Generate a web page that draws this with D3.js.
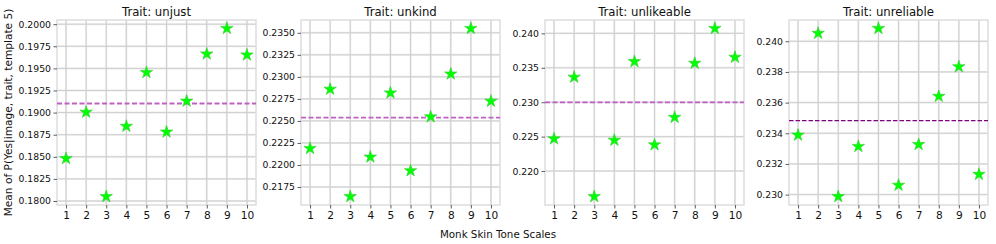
<!DOCTYPE html>
<html>
<head>
<meta charset="utf-8">
<script src="https://cdn.jsdelivr.net/npm/d3@7"></script>
<style>
  body { margin: 0; background: #fff; }
  svg { display: block; font-family: "DejaVu Sans", sans-serif; }
</style>
</head>
<body>
<div id="chart-area"></div>
<script>
// data
var skinTones = [1, 2, 3, 4, 5, 6, 7, 8, 9, 10];
var traits = ["unjust", "unkind", "unlikeable", "unreliable"];

var unjustValues     = [0.1848, 0.19005, 0.1805, 0.18845, 0.19454, 0.1878, 0.1913, 0.19663, 0.19952, 0.19652];
var unkindValues     = [0.22188, 0.2286, 0.21641, 0.2209, 0.22818, 0.21935, 0.22546, 0.23033, 0.2355, 0.22724];
var unlikeableValues = [0.22468, 0.23364, 0.21629, 0.22448, 0.2359, 0.22381, 0.2278, 0.23566, 0.24072, 0.23653];
var unreliableValues = [0.23388, 0.24052, 0.22987, 0.23314, 0.24084, 0.23061, 0.23327, 0.23641, 0.23834, 0.23132];

// dashed reference line per panel
var meanValues = [0.19103, 0.22538, 0.22997, 0.23483];

var unjustTicks     = [0.1800, 0.1825, 0.1850, 0.1875, 0.1900, 0.1925, 0.1950, 0.1975, 0.2000];
var unkindTicks     = [0.2175, 0.2200, 0.2225, 0.2250, 0.2275, 0.2300, 0.2325, 0.2350];
var unlikeableTicks = [0.220, 0.225, 0.230, 0.235, 0.240];
var unreliableTicks = [0.230, 0.232, 0.234, 0.236, 0.238, 0.240];

var panels = [
  { trait: traits[0], values: unjustValues, mean: meanValues[0], ticks: unjustTicks, fmt: ".4f" },
  { trait: traits[1], values: unkindValues, mean: meanValues[1], ticks: unkindTicks, fmt: ".4f" },
  { trait: traits[2], values: unlikeableValues, mean: meanValues[2], ticks: unlikeableTicks, fmt: ".3f" },
  { trait: traits[3], values: unreliableValues, mean: meanValues[3], ticks: unreliableTicks, fmt: ".3f" }
];

var width = 996, height = 244;
var panelLeft = [57, 301, 545, 789];
var panelW = 199;
var plotTop = 20, plotBottom = 205;

var svg = d3.select("#chart-area")
  .append("svg")
    .attr("width", width)
    .attr("height", height);

panels.forEach(function(p, k) {
  var x0 = panelLeft[k];
  var g = svg.append("g");

  var x = d3.scaleLinear()
    .domain([0.55, 10.45])
    .range([x0, x0 + panelW]);

  // matplotlib-ish 5% padding
  var ext = d3.extent(p.values);
  var pad = (ext[1] - ext[0]) * 0.05;
  var y = d3.scaleLinear()
    .domain([ext[0] - pad, ext[1] + pad])
    .range([plotBottom, plotTop]);

  // grid: light band + thin darker line
  [["#ececec", 2], ["#c8c8c8", 0.8]].forEach(function(st) {
    g.selectAll(null).data(skinTones).enter().append("line")
      .attr("x1", function(d) { return x(d); })
      .attr("x2", function(d) { return x(d); })
      .attr("y1", plotTop).attr("y2", plotBottom)
      .attr("stroke", st[0]).attr("stroke-width", st[1]);
    g.selectAll(null).data(p.ticks).enter().append("line")
      .attr("x1", x0).attr("x2", x0 + panelW)
      .attr("y1", function(d) { return y(d); })
      .attr("y2", function(d) { return y(d); })
      .attr("stroke", st[0]).attr("stroke-width", st[1]);
  });

  // frame
  g.append("rect")
    .attr("x", x0).attr("y", plotTop)
    .attr("width", panelW).attr("height", plotBottom - plotTop)
    .attr("fill", "none")
    .attr("stroke", "#dddddd")
    .attr("stroke-width", 1.5);

  // axes
  var xAxis = g.append("g")
    .attr("transform", "translate(0," + plotBottom + ")")
    .call(d3.axisBottom(x).tickValues(skinTones).tickSize(3.5).tickPadding(3));
  var yAxis = g.append("g")
    .attr("transform", "translate(" + x0 + ",0)")
    .call(d3.axisLeft(y).tickValues(p.ticks).tickFormat(d3.format(p.fmt)).tickSize(3.5).tickPadding(2.5));

  [xAxis, yAxis].forEach(function(a) {
    a.select(".domain").remove();
    a.selectAll(".tick line").attr("stroke", "#333").attr("stroke-width", 0.8);
    a.selectAll(".tick text")
      .attr("fill", "#111")
      .style("font-family", "DejaVu Sans")
      .style("font-size", "9.3px");
  });
  xAxis.selectAll(".tick text").style("font-size", "10.6px");

  // mean line
  g.append("line")
    .attr("x1", x0).attr("x2", x0 + panelW)
    .attr("y1", y(p.mean)).attr("y2", y(p.mean))
    .attr("stroke", k < 3 ? "#c060c4" : "#800080")
    .attr("stroke-width", k < 3 ? 1.8 : 1.3)
    .attr("stroke-dasharray", k < 3 ? "5,2.5" : "4.5,2");

  // star markers
  var star = d3.symbol().type(d3.symbolStar).size(48);
  g.selectAll(".pt")
    .data(p.values)
    .enter()
    .append("path")
      .attr("class", "pt")
      .attr("d", star)
      .attr("transform", function(d, i) {
        return "translate(" + x(skinTones[i]) + "," + y(d) + ")";
      })
      .attr("fill", "#00ff00")
      .attr("stroke", "#33cc33")
      .attr("stroke-width", 0.6);

  // title
  g.append("text")
    .attr("x", x0 + panelW / 2)
    .attr("y", 15.5)
    .attr("text-anchor", "middle")
    .style("font-size", "11.7px")
    .attr("fill", "#111")
    .text("Trait: " + p.trait);
});

svg.append("text")
  .attr("x", 498)
  .attr("y", 238)
  .attr("text-anchor", "middle")
  .style("font-size", "10.3px")
  .attr("fill", "#111")
  .text("Monk Skin Tone Scales");

svg.append("text")
  .attr("transform", "translate(12,112.5) rotate(-90)")
  .attr("text-anchor", "middle")
  .style("font-size", "10.6px")
  .attr("fill", "#111")
  .text("Mean of P(Yes|image, trait, template 5)");
</script>
</body>
</html>
